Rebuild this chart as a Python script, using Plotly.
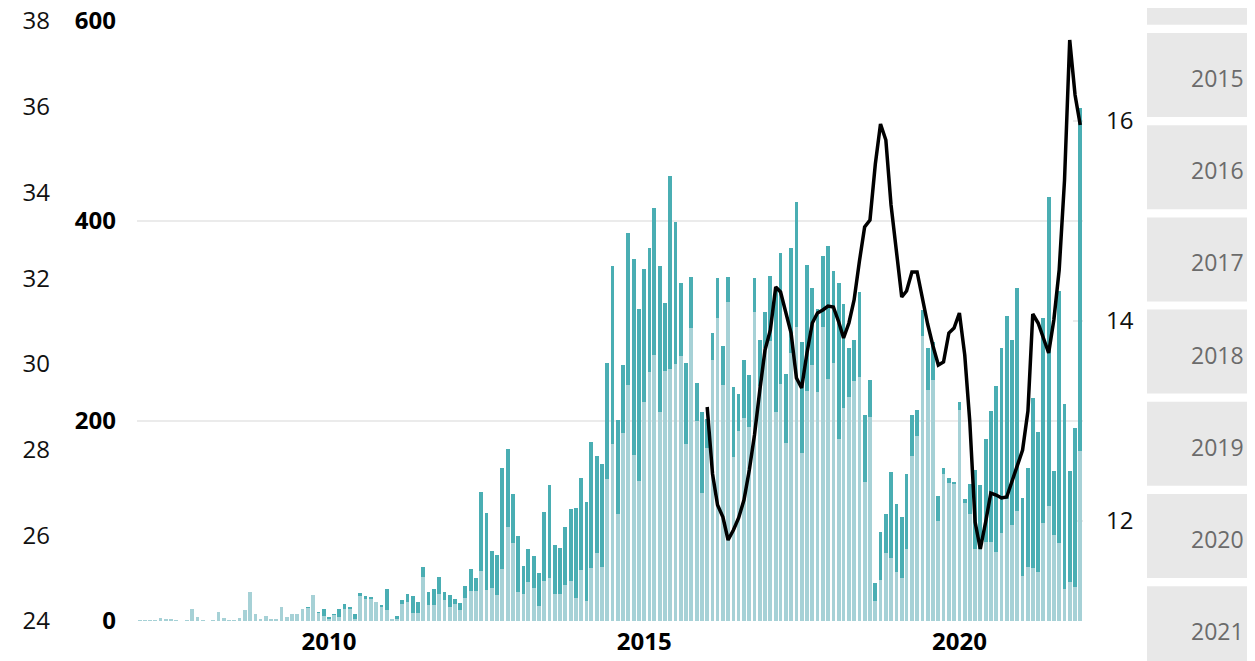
import plotly.graph_objects as go
import pandas as pd

# ---------------- data ----------------
months = pd.date_range("2007-01-01", "2021-12-01", freq="MS")

light = [1, 0.5, 1, 1, 3, 2, 2, 1, 0, 1, 12, 4, 1, 0, 1, 9, 3, 1, 1, 3,
         11, 29, 7, 2, 5, 2, 2, 14, 4, 7, 7, 12, 13, 26, 8, 5, 2, 6, 4, 12,
         12, 2, 25, 22, 22, 19, 14, 11, 2, 2, 17, 19, 8, 8, 44, 16, 16, 27, 21, 14,
         17, 11, 23, 30, 30, 50, 31, 33, 26, 52, 94, 78, 29, 27, 39, 33, 15, 40, 43, 27,
         27, 36, 40, 23, 51, 20, 53, 68, 54, 142, 177, 107, 188, 236, 166, 140, 219, 249, 266, 209,
         250, 252, 257, 265, 177, 293, 200, 128, 173, 261, 303, 236, 319, 164, 190, 203, 194, 309, 235, 273,
         280, 209, 237, 178, 268, 294, 168, 230, 256, 229, 294, 242, 258, 182, 213, 224, 240, 244, 139, 204,
         20, 41, 68, 63, 49, 43, 72, 165, 185, 285, 231, 241, 100, 147, 138, 137, 211, 118, 107, 72,
         72, 79, 79, 69, 88, 122, 96, 110, 45, 54, 53, 49, 98, 115, 86, 78, 32, 39, 34, 170]

total = [1, 0.5, 1, 1, 3, 2, 2, 1, 0, 1, 12, 4, 1, 0, 1, 9, 3, 1, 1, 3,
         11, 29, 7, 2, 5, 2, 2, 14, 4, 7, 7, 12, 14, 26, 9, 12, 4, 7, 12, 17,
         14, 7, 28, 25, 24, 19, 16, 32, 2, 5, 21, 27, 25, 19, 54, 29, 32, 44, 29, 26,
         22, 18, 35, 52, 43, 129, 108, 70, 66, 153, 172, 127, 85, 55, 72, 65, 48, 109, 136, 76,
         73, 94, 112, 113, 143, 119, 179, 165, 157, 258, 355, 201, 256, 388, 362, 312, 352, 373, 413, 355,
         318, 445, 399, 338, 258, 344, 238, 209, 202, 288, 343, 275, 344, 234, 227, 261, 246, 343, 281, 309,
         345, 330, 368, 247, 373, 419, 279, 356, 333, 312, 365, 375, 350, 338, 317, 273, 281, 329, 206, 241,
         38, 89, 107, 149, 117, 104, 147, 206, 211, 311, 273, 279, 125, 153, 143, 139, 219, 122, 137, 151,
         136, 182, 210, 235, 273, 305, 281, 333, 123, 153, 223, 189, 303, 424, 150, 330, 217, 150, 193, 513]

dark = [t - l for t, l in zip(total, light)]

line_months = pd.date_range("2016-01-01", "2021-12-01", freq="MS")
line_vals = [13.14, 12.47, 12.16, 12.04, 11.81, 11.91, 12.03, 12.21, 12.51, 12.86, 13.31, 13.71,
             13.91, 14.34, 14.29, 14.09, 13.88, 13.43, 13.33, 13.68, 13.98, 14.08, 14.11, 14.15,
             14.14, 13.99, 13.83, 13.98, 14.21, 14.60, 14.94, 15.01, 15.57, 15.97, 15.81, 15.16,
             14.66, 14.24, 14.30, 14.49, 14.49, 14.21, 13.97, 13.75, 13.56, 13.59, 13.88, 13.93,
             14.08, 13.66, 13.00, 11.99, 11.72, 11.99, 12.28, 12.26, 12.23, 12.24, 12.39, 12.56,
             12.71, 13.10, 14.07, 13.98, 13.84, 13.68, 14.01, 14.51, 15.41, 16.81, 16.26, 15.96]

left_axis_range = [24, 38]
main_ticks = [0, 200, 400, 600]
right_ticks = [12, 14, 16]
x_ticks = ["2010-01-01", "2015-01-01", "2020-01-01"]
x_labels = ["2010", "2015", "2020"]
button_years = [None, "2015", "2016", "2017", "2018", "2019", "2020", "2021"]

# ---------------- styling ----------------
OFF = 8  # page body margin
W, H = 1255 - OFF, 661 - OFF
PL, PR, PT, PB = 137 - OFF, 1083 - OFF, 21 - OFF, 621 - OFF  # plot area in figure px
FONT = "Open Sans"
FS = 24
LIGHT = "#a6d1d6"
DARK = "#4aaeb3"
GRID = "#ebebeb"


def px_x(x):
    return (x - OFF) / W


def px_y(y):
    return (PB - (y - OFF)) / (PB - PT)


fig = go.Figure()
fig.add_trace(go.Bar(x=months, y=light, marker=dict(color=LIGHT, line=dict(width=0)),
                     name="light", yaxis="y", hoverinfo="x+y"))
fig.add_trace(go.Bar(x=months, y=dark, marker=dict(color=DARK, line=dict(width=0)),
                     name="dark", yaxis="y", hoverinfo="x+y"))
fig.add_trace(go.Scatter(x=line_months, y=line_vals, mode="lines",
                         line=dict(color="#000000", width=3.5), yaxis="y2", name="line"))
# empty trace so the outer left axis gets drawn
fig.add_trace(go.Scatter(x=[None], y=[None], yaxis="y3", mode="lines",
                         showlegend=False, hoverinfo="skip"))

shapes = []
annotations = []

# short inner tick marks of the right axis (drawn beneath the bars)
for v in right_ticks:
    shapes.append(dict(type="line", xref="paper", yref="y2",
                       x0=(PR - 10) / W, x1=PR / W, y0=v, y1=v,
                       line=dict(color=GRID, width=2), layer="below"))

# year buttons on the right
pitch = 92.2
top0 = 33 - pitch
for k, yr in enumerate(button_years):
    t = top0 + k * pitch
    b = t + 84
    shapes.append(dict(type="rect", xref="paper", yref="paper",
                       x0=px_x(1147), x1=px_x(1270), y0=px_y(b), y1=px_y(t),
                       fillcolor="#e8e8e8", line=dict(width=0), layer="below"))
    if yr:
        annotations.append(dict(xref="paper", yref="paper", x=px_x(1246), y=px_y(t + 45),
                                text=yr, showarrow=False, xanchor="right", yanchor="middle",
                                font=dict(family=FONT, size=FS - 1, color="#6b6b6b")))

fig.update_layout(
    width=W, height=H, autosize=False,
    margin=dict(l=0, r=0, t=PT, b=H - PB, pad=0, autoexpand=False),
    paper_bgcolor="white", plot_bgcolor="white",
    barmode="stack", bargap=0.22,
    showlegend=False,
    font=dict(family=FONT),
    xaxis=dict(type="date", domain=[PL / W, PR / W],
               range=["2006-12-16", "2021-12-17"],
               tickvals=x_ticks, ticktext=x_labels,
               tickfont=dict(family=FONT, size=FS, color="#000", weight="bold"),
               showgrid=False, zeroline=False, showline=False, ticks="",
               ticklabelstandoff=4, automargin=False),
    yaxis=dict(range=[0, 600], tickvals=main_ticks,
               tickfont=dict(family=FONT, size=FS, color="#000", weight="bold"),
               showgrid=True, gridcolor=GRID, gridwidth=2,
               zeroline=False, showline=False, ticks="", ticklabelstandoff=20,
               ticklabeloverflow="allow", automargin=False),
    yaxis2=dict(range=[11, 17], tickvals=right_ticks, overlaying="y", side="right",
                anchor="x", showgrid=False, zeroline=False, showline=False, ticks="",
                tickfont=dict(family=FONT, size=FS, color="#111"), ticklabelstandoff=22,
                ticklabeloverflow="allow", automargin=False),
    yaxis3=dict(range=left_axis_range, dtick=2, overlaying="y", side="left", anchor="free",
                position=42 / W, showgrid=False, zeroline=False, showline=False, ticks="",
                tickfont=dict(family=FONT, size=FS, color="#111"),
                ticklabeloverflow="allow", automargin=False, autoshift=False),
    shapes=shapes, annotations=annotations,
)

fig.write_html("out.html")
